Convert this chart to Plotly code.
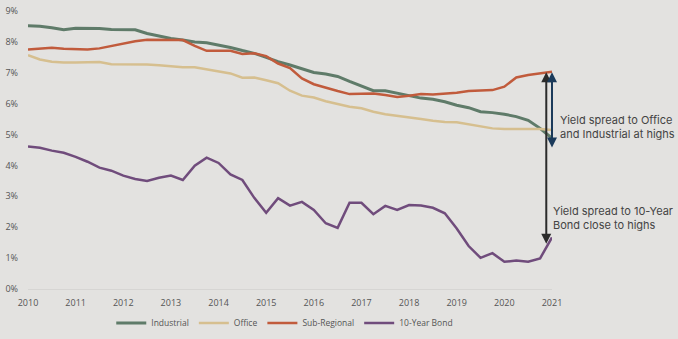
import plotly.graph_objects as go

# Quarterly observations 2010 Q1 .. 2021 Q1
quarters = [2010 + i * 0.25 for i in range(45)]

industrial = [8.52, 8.51, 8.46, 8.39, 8.44, 8.44, 8.43, 8.40, 8.39, 8.39,
              8.27, 8.19, 8.11, 8.06, 8.00, 7.97, 7.90, 7.82, 7.72, 7.63,
              7.50, 7.36, 7.25, 7.12, 7.01, 6.96, 6.88, 6.72, 6.58, 6.42,
              6.42, 6.33, 6.26, 6.18, 6.14, 6.06, 5.95, 5.87, 5.74, 5.71,
              5.66, 5.58, 5.46, 5.20, 4.88]

office = [7.57, 7.43, 7.36, 7.33, 7.33, 7.33, 7.35, 7.28, 7.28, 7.28,
          7.27, 7.24, 7.21, 7.18, 7.18, 7.12, 7.06, 6.98, 6.84, 6.85,
          6.76, 6.66, 6.42, 6.26, 6.20, 6.08, 5.99, 5.90, 5.85, 5.74,
          5.66, 5.60, 5.54, 5.50, 5.45, 5.41, 5.40, 5.33, 5.25, 5.20,
          5.18, 5.18, 5.18, 5.18, 5.15]

sub_regional = [7.75, 7.78, 7.81, 7.78, 7.76, 7.75, 7.79, 7.87, 7.95, 8.02,
                8.07, 8.07, 8.08, 8.06, 7.87, 7.71, 7.71, 7.71, 7.61, 7.63,
                7.54, 7.30, 7.15, 6.82, 6.63, 6.51, 6.41, 6.31, 6.31, 6.33,
                6.28, 6.22, 6.26, 6.31, 6.30, 6.32, 6.35, 6.41, 6.42, 6.44,
                6.55, 6.85, 6.93, 6.98, 7.03]

bond_10y = [4.61, 4.57, 4.48, 4.41, 4.28, 4.12, 3.93, 3.83, 3.67, 3.56,
            3.50, 3.60, 3.67, 3.53, 3.99, 4.25, 4.08, 3.71, 3.53, 2.95,
            2.47, 2.94, 2.70, 2.82, 2.56, 2.13, 1.98, 2.79, 2.79, 2.42,
            2.69, 2.56, 2.72, 2.70, 2.63, 2.45, 1.96, 1.39, 1.01, 1.16,
            0.88, 0.92, 0.88, 0.99, 1.67]

series_names = ["Industrial", "Office", "Sub-Regional", "10-Year Bond"]
series_colors = ["#5f7b69", "#d6bf8f", "#c15b3c", "#704c7c"]
series_widths = [3, 2.5, 2.5, 2.5]

x_ticks = list(range(2010, 2022))
y_ticks = list(range(0, 10))

# Arrow annotations (values)
black_arrow_x, black_arrow_top, black_arrow_bottom = 2020.88, 7.02, 1.42
navy_arrow_x, navy_arrow_top, navy_arrow_bottom = 2021.0, 7.02, 4.53

fig = go.Figure()
for name, ys, col, w in zip(series_names, [industrial, office, sub_regional, bond_10y],
                            series_colors, series_widths):
    fig.add_trace(go.Scatter(x=quarters, y=ys, mode="lines", name=name,
                             line=dict(color=col, width=w)))

bg = "#e3e2e0"
fig.update_layout(
    width=678, height=339,
    margin=dict(l=28, r=126, t=11, b=50),
    paper_bgcolor=bg, plot_bgcolor=bg,
    font=dict(family="Open Sans, sans-serif", size=9, color="#555555"),
    showlegend=True,
    legend=dict(orientation="h", x=0.42, xanchor="center", xref="container",
                y=0.047, yanchor="middle", yref="container",
                font=dict(size=8.5, color="#555555"), bgcolor="rgba(0,0,0,0)",
                itemwidth=30, tracegroupgap=0),
    xaxis=dict(range=[2010, 2021], tickvals=x_ticks, ticktext=[str(v) for v in x_ticks],
               showgrid=False, zeroline=False, showline=True, linecolor="#d6d5d3",
               linewidth=1, ticks="", tickfont=dict(size=9, color="#555555"),
               ticklabelstandoff=5, automargin=False),
    yaxis=dict(range=[0, 9], tickvals=y_ticks, ticktext=[f"{v}%" for v in y_ticks],
               showgrid=False, zeroline=False, showline=False, ticks="",
               tickfont=dict(size=9, color="#555555"), ticklabelstandoff=9,
               automargin=False),
)

# double-headed arrows
for ax_, top, bot, col in [(black_arrow_x, black_arrow_top, black_arrow_bottom, "#2b2b2b"),
                           (navy_arrow_x, navy_arrow_top, navy_arrow_bottom, "#1b3a5a")]:
    fig.add_annotation(x=ax_, y=top, ax=ax_, ay=bot, xref="x", yref="y", axref="x", ayref="y",
                       showarrow=True, arrowhead=2, arrowside="end+start", arrowsize=1,
                       arrowwidth=2, arrowcolor=col, text="")

fig.add_annotation(x=1.0115, y=5.23, xref="paper", yref="y", xanchor="left", yanchor="middle",
                   text="Yield spread to Office<br>and Industrial at highs", showarrow=False,
                   align="left", font=dict(family="Inter, sans-serif", size=11, color="#444444"))
fig.add_annotation(x=0.9985, y=2.3, xref="paper", yref="y", xanchor="left", yanchor="middle",
                   text="Yield spread to 10-Year<br>Bond close to highs", showarrow=False,
                   align="left", font=dict(family="Inter, sans-serif", size=11, color="#444444"))

fig.write_html("out.html")
